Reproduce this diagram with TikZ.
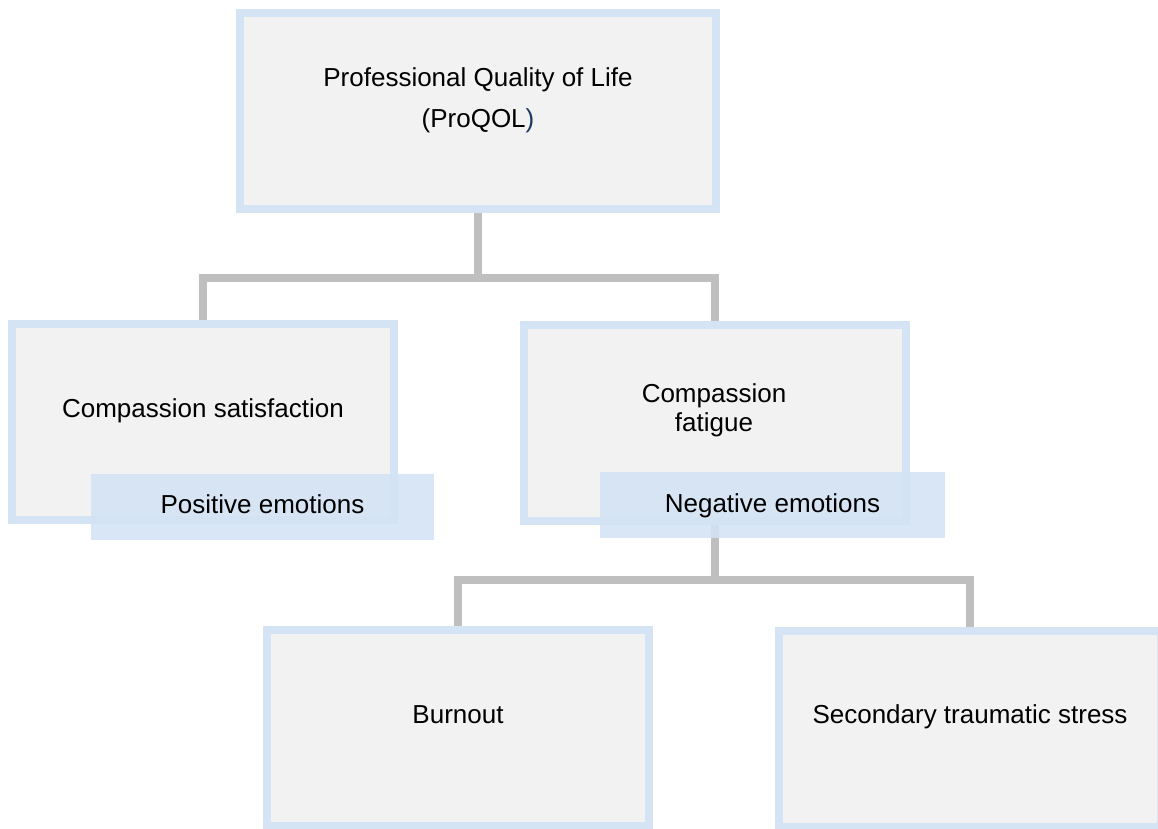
\documentclass[tikz,border=0pt]{standalone}
\usepackage{fontspec}
\setmainfont{Liberation Sans}
\usetikzlibrary{calc}
\pgfdeclarelayer{background}
\pgfsetlayers{background,main}
\definecolor{boxfill}{HTML}{F2F2F2}
\definecolor{boxline}{HTML}{D5E4F5}
\definecolor{tagfill}{HTML}{D3E3F4}
\definecolor{linkgray}{HTML}{BFBFBF}
\definecolor{parenblue}{HTML}{1F3864}
\begin{document}
\begin{tikzpicture}[x=1pt,y=-1pt,
  box/.style={draw=boxline, fill=boxfill, line width=8pt, minimum width=382pt,
    minimum height=196pt, inner sep=0pt, outer sep=0pt},
  tag/.style={fill=tagfill, fill opacity=0.88, inner sep=0pt, outer sep=0pt,
    minimum height=66pt},
  lbl/.style={anchor=base, font=\fontsize{26}{31}\selectfont, text=black, inner sep=0pt},
  link/.style={draw=linkgray, line width=7.5pt, line join=miter}]
\useasboundingbox (0,0) rectangle (1158,828);
\clip (0,0) rectangle (1158,828);

% main boxes
\node[box, minimum width=476pt] (top) at (478,111) {};
\node[box] (cs) at (203,422) {};
\node[box] (cf) at (715,422.5) {};
\node[box] (bo) at (458,728) {};
\node[box] (sts) at (970,729) {};

% connectors beneath the boxes
\begin{pgfonlayer}{background}
  \coordinate (j1) at ($(top.south)+(0,69)$);
  \coordinate (j2) at ($(cf.south)+(0,59.5)$);
  \draw[link] (top.south) -- (j1) -| (cs.north);
  \draw[link] (j1) -| (cf.north);
  \draw[link] (cf.south) -- (j2) -| (bo.north);
  \draw[link] (j2) -| (sts.north);
\end{pgfonlayer}

% emotion tags
\node[tag, minimum width=343pt] (pos) at (262.5,506.5) {};
\node[tag, minimum width=345pt] (neg) at (772.5,505) {};

% texts
\node[lbl] (t1) at (478,86) {Professional Quality of Life};
\node[lbl] (t2) at (478,127) {(ProQOL\textcolor{parenblue}{)}};
\node[lbl] (t3) at (203,417) {Compassion satisfaction};
\node[lbl] (t4) at (714,402) {Compassion};
\node[lbl] (t5) at (714,431) {fatigue};
\node[lbl] (t6) at (262.5,513) {Positive emotions};
\node[lbl] (t7) at (772.5,512) {Negative emotions};
\node[lbl] (t8) at (458,723) {Burnout};
\node[lbl] (t9) at (970,723) {Secondary traumatic stress};
\end{tikzpicture}
\end{document}
